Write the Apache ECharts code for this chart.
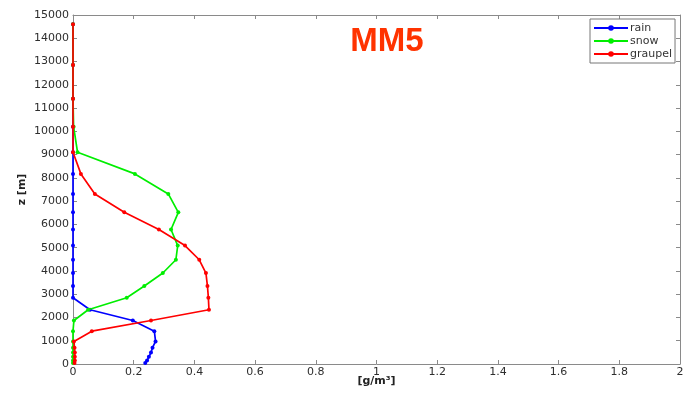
<!DOCTYPE html>
<html>
<head>
<meta charset="utf-8">
<script src="https://cdn.jsdelivr.net/npm/echarts@6/dist/echarts.min.js"></script>
<style>
  html, body { margin: 0; padding: 0; background: #fff; }
  #chart { width: 684px; height: 395px; }
</style>
</head>
<body>
<div id="chart"></div>
<script>
// Model levels (height in metres) shared by all hydrometeor profiles
const levelsZ = [14600, 12850, 11400, 10200, 9100, 8170, 7310, 6520, 5780, 5090,
                 4480, 3910, 3350, 2850, 2330, 1870, 1410, 970, 700, 490, 310, 150, 40];

// Mixing ratios in g/m^3 at each level
const rainValues = [0, 0, 0, 0, 0, 0, 0, 0, 0, 0,
                    0, 0, 0, 0, 0.056, 0.197, 0.268, 0.272, 0.262, 0.257, 0.250, 0.244, 0.238];
const snowValues = [0, 0, 0, 0.002, 0.015, 0.204, 0.314, 0.347, 0.323, 0.345,
                    0.339, 0.296, 0.235, 0.177, 0.05, 0.003, 0, 0, 0, 0, 0, 0, 0];
const graupelValues = [0, 0, 0, 0, 0, 0.026, 0.072, 0.169, 0.283, 0.369,
                       0.416, 0.438, 0.443, 0.446, 0.448, 0.257, 0.062, 0.003, 0.005, 0.006, 0.006, 0.006, 0.005];

const seriesNames = ['rain', 'snow', 'graupel'];
const seriesColors = ['#0000ff', '#00ee00', '#ff0000'];
const seriesValues = [rainValues, snowValues, graupelValues];

const font = "'DejaVu Sans', Verdana, sans-serif";
const titleFont = "'Liberation Sans', Arial, sans-serif";
const axisGray = '#8a8a8a';
const labelGray = '#2e2e2e';

const chart = echarts.init(document.getElementById('chart'), null, { renderer: 'canvas' });

const baseX = {
  type: 'value', min: 0, max: 2, interval: 0.2,
  axisLine: { show: true, onZero: false, lineStyle: { color: axisGray, width: 1 } },
  axisTick: { show: true, inside: true, length: 4, lineStyle: { color: axisGray } },
  splitLine: { show: false }
};
const baseY = {
  type: 'value', min: 0, max: 15000, interval: 1000,
  axisLine: { show: true, onZero: false, lineStyle: { color: axisGray, width: 1 } },
  axisTick: { show: true, inside: true, length: 4, lineStyle: { color: axisGray } },
  splitLine: { show: false }
};

chart.setOption({
  animation: false,
  backgroundColor: '#ffffff',
  title: {
    text: 'MM5',
    left: 382, top: 20, textAlign: 'center',
    textStyle: { color: '#ff3300', fontSize: 33, fontWeight: 'bold', fontFamily: titleFont }
  },
  legend: {
    data: seriesNames,
    orient: 'vertical',
    left: 590, top: 19,
    padding: [3, 3, 3, 3],
    itemWidth: 34, itemHeight: 7, itemGap: 1,
    borderColor: '#777', borderWidth: 1,
    backgroundColor: '#fff',
    textStyle: { fontSize: 11, lineHeight: 12, color: '#333', fontFamily: font, padding: [0, 0, 0, -3] }
  },
  grid: { left: 73, top: 15, right: 4, bottom: 31, containLabel: false, outerBoundsMode: 'none' },
  xAxis: [
    Object.assign({}, baseX, {
      position: 'bottom',
      name: '[g/m³]', nameLocation: 'middle', nameGap: 12,
      nameMoveOverlap: false,
      nameTextStyle: { fontSize: 11, fontWeight: 'bold', color: '#222', fontFamily: font },
      axisLabel: {
        margin: 3, fontSize: 11, color: labelGray, fontFamily: font,
        formatter: v => String(+v.toFixed(1))
      }
    }),
    Object.assign({}, baseX, { position: 'top', axisLabel: { show: false } })
  ],
  yAxis: [
    Object.assign({}, baseY, {
      position: 'left',
      name: 'z [m]', nameLocation: 'middle', nameGap: 45,
      nameMoveOverlap: false,
      nameTextStyle: { fontSize: 11, fontWeight: 'bold', color: '#222', fontFamily: font },
      axisLabel: {
        margin: 4, fontSize: 11, color: labelGray, fontFamily: font,
        formatter: v => String(v)
      }
    }),
    Object.assign({}, baseY, { position: 'right', axisLabel: { show: false } })
  ],
  series: seriesNames.map((name, k) => ({
    name: name,
    type: 'line',
    xAxisIndex: 0, yAxisIndex: 0,
    data: levelsZ.map((z, i) => [seriesValues[k][i], z]),
    symbol: 'circle', symbolSize: 4,
    showAllSymbol: true,
    lineStyle: { color: seriesColors[k], width: 1.7 },
    itemStyle: { color: seriesColors[k] },
    z: 2 + k
  }))
});
</script>
</body>
</html>
